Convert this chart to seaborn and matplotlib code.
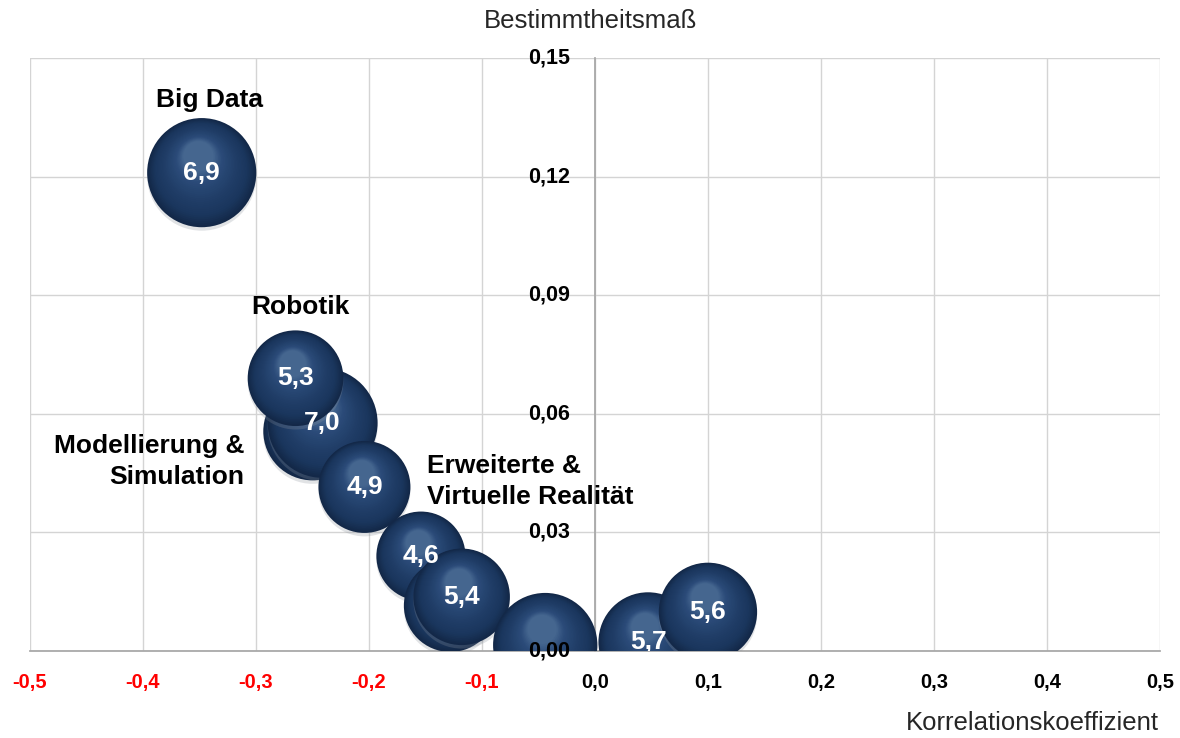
import numpy as np
import pandas as pd
import matplotlib
matplotlib.use("Agg")
import matplotlib.pyplot as plt
import matplotlib.transforms as mtransforms
from matplotlib.colors import LinearSegmentedColormap
import seaborn as sns

# bubble data (drawing order = stacking order)
korrelation = [-0.348, -0.250, -0.241, -0.265, -0.204, -0.154, -0.128, -0.118, -0.044, 0.047, 0.100]
bestimmtheit = [0.121, 0.0556, 0.0577, 0.069, 0.0415, 0.024, 0.0115, 0.0137, 0.0015, 0.0023, 0.0099]
werte = [6.9, 5.6, 7.0, 5.3, 4.9, 4.6, 5.0, 5.4, 6.3, 5.7, 5.6]
wert_labels = ["6,9", "", "7,0", "5,3", "4,9", "4,6", "", "5,4", "", "5,7", "5,6"]

x_ticks = [-0.5, -0.4, -0.3, -0.2, -0.1, 0.0, 0.1, 0.2, 0.3, 0.4, 0.5]
x_ticklabels = ["-0,5", "-0,4", "-0,3", "-0,2", "-0,1", "0,0", "0,1", "0,2", "0,3", "0,4", "0,5"]
y_ticks = [0.0, 0.03, 0.06, 0.09, 0.12, 0.15]
y_ticklabels = ["0,00", "0,03", "0,06", "0,09", "0,12", "0,15"]

df = pd.DataFrame({"x": korrelation, "y": bestimmtheit, "wert": werte, "label": wert_labels})

sns.set_theme(style="white")
plt.rcParams["font.family"] = ["Liberation Sans", "DejaVu Sans"]

fig = plt.figure(figsize=(11.8, 7.38), dpi=100)
ax = fig.add_axes([0.0254, 0.1179, 0.9576, 0.8035])

ax.spines["left"].set_position(("data", 0))
ax.spines["left"].set_color("#a6a6a6")
ax.spines["bottom"].set_color("#a6a6a6")
ax.spines["top"].set_visible(False)
ax.spines["right"].set_visible(False)

sphere = LinearSegmentedColormap.from_list(
    "sphere", [(0.0, "#132848"), (0.2, "#1a365d"), (0.5, "#213f69"),
               (0.8, "#2b4b79"), (1.0, "#45668f")])

n_layers = 30
for i, row in df.iterrows():
    z = 3 + i * 0.1
    sns.scatterplot(data=df.iloc[[i]], x="x", y="y", size="wert",
                    sizes=(0, 895 * 7.5), size_norm=(0, 7.5),
                    color="#132848", edgecolor="none", linewidth=0,
                    legend=False, ax=ax, zorder=z)
    base = ax.collections[-1]
    s0 = base.get_sizes()[0]
    r = np.sqrt(s0) / 2
    # soft shadow below the sphere
    sh = mtransforms.offset_copy(ax.transData, fig=fig, x=0, y=-2.5, units="points")
    ax.scatter([row["x"]], [row["y"]], s=s0, color="#8a919b", alpha=0.25,
               edgecolors="none", transform=sh, zorder=z - 0.001)
    for t in np.linspace(0, 1, n_layers)[1:]:
        size = s0 * (1 - 0.72 * t) ** 2
        tr = mtransforms.offset_copy(ax.transData, fig=fig,
                                     x=-0.06 * r * t, y=0.30 * r * t, units="points")
        ax.scatter([row["x"]], [row["y"]], s=size, color=sphere(t),
                   edgecolors="none", transform=tr, zorder=z + 0.001)

# value labels sit above all bubbles
for _, row in df[df["label"] != ""].iterrows():
    ax.text(row["x"], row["y"], row["label"], color="white", fontsize=19,
            fontweight="bold", ha="center", va="center", zorder=15, clip_on=True)

# category labels
kw = dict(fontsize=19, fontweight="bold", color="black", zorder=16)
ax.text(-0.341, 0.1394, "Big Data", ha="center", va="center", **kw)
ax.text(-0.261, 0.087, "Robotik", ha="center", va="center", **kw)
ax.text(-0.310, 0.048, "Modellierung &\nSimulation", ha="right", va="center",
        multialignment="right", linespacing=1.35, **kw)
ax.text(-0.149, 0.0428, "Erweiterte &\nVirtuelle Realität", ha="left", va="center",
        multialignment="left", linespacing=1.35, **kw)

ax.set_xlim(-0.5, 0.5)
ax.set_ylim(0, 0.15)
ax.set_xticks(x_ticks)
ax.set_xticklabels(x_ticklabels, fontsize=14.5, fontweight="bold")
for lbl, v in zip(ax.get_xticklabels(), x_ticks):
    lbl.set_color("#ff0000" if v < 0 else "black")
ax.set_yticks(y_ticks)
ax.set_yticklabels([])

# y tick labels sit left of the axis at x = 0, on top of the bubbles
ylab_tr = mtransforms.offset_copy(ax.transData, fig=fig, x=-18, y=0, units="points")
for v, lab in zip(y_ticks, y_ticklabels):
    ax.text(0, v, lab, transform=ylab_tr, ha="right", va="center",
            fontsize=15.5, fontweight="bold", color="black", zorder=20, clip_on=False)

ax.grid(True, color="#d4d4d4", linewidth=1.0)
ax.set_axisbelow(True)
ax.tick_params(axis="x", length=0, pad=16)
ax.tick_params(axis="y", length=0)
ax.set_xlabel("")
ax.set_ylabel("")

fig.text(0.5, 0.972, "Bestimmtheitsmaß", ha="center", va="center", fontsize=18.5)
fig.text(0.982, 0.021, "Korrelationskoeffizient", ha="right", va="center", fontsize=18.5)

fig.savefig("out.png", dpi=100, facecolor="white")
